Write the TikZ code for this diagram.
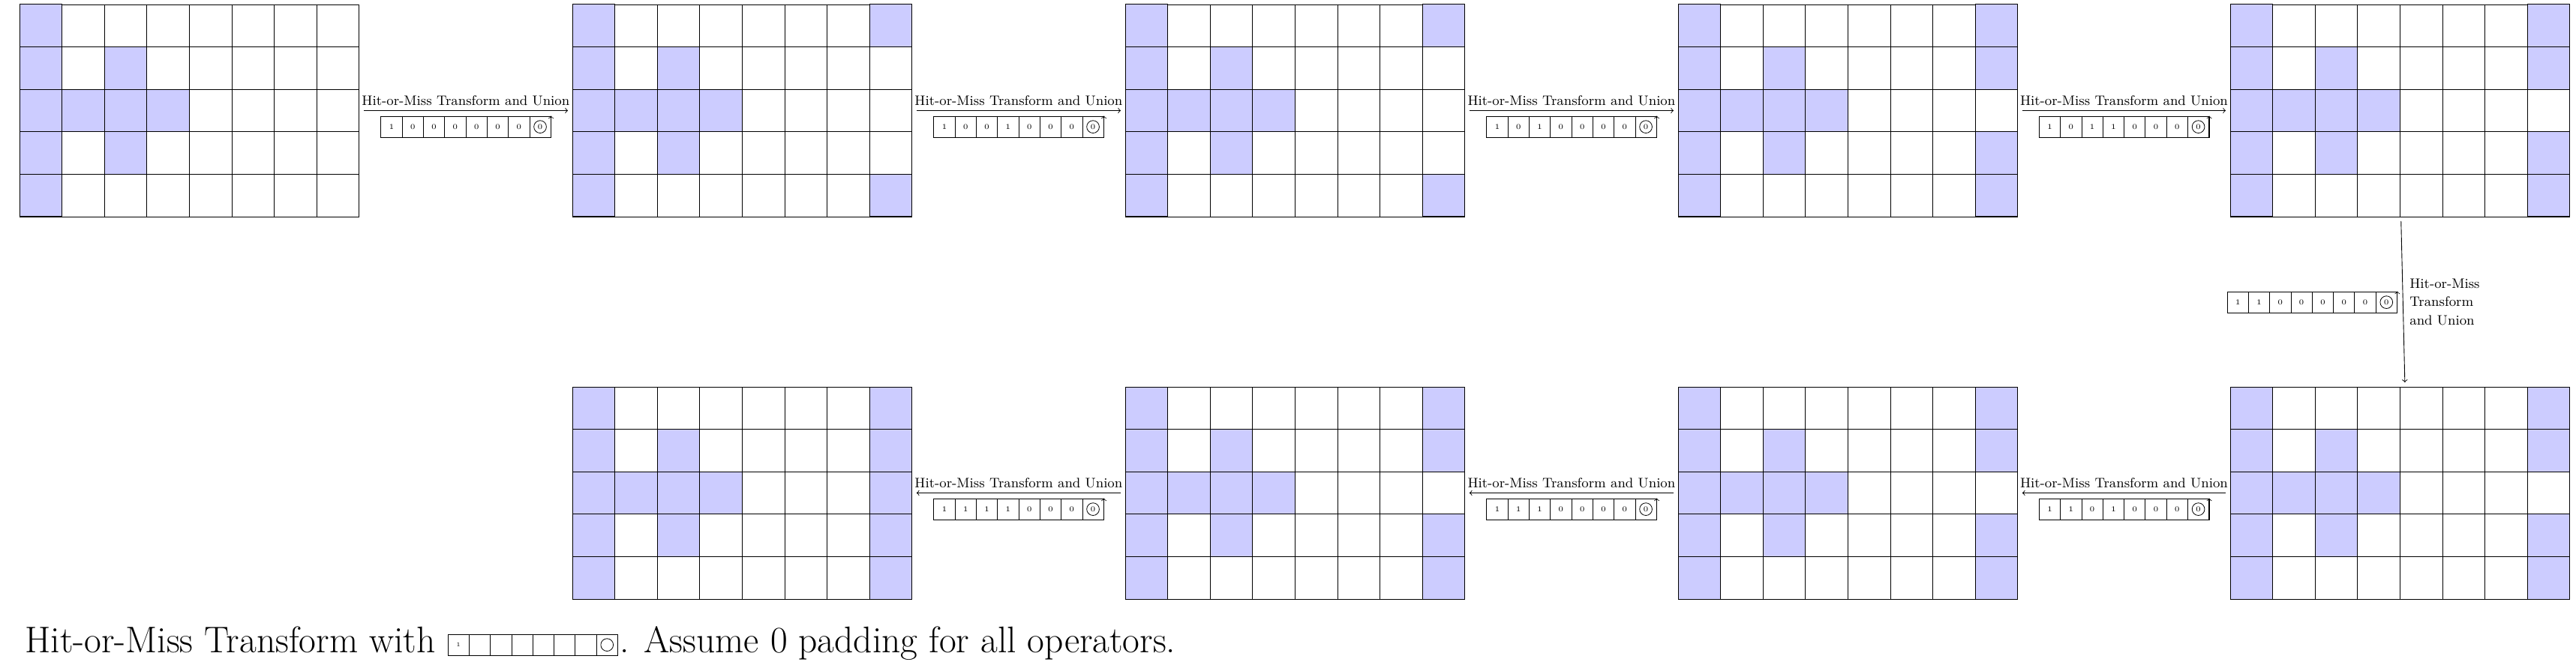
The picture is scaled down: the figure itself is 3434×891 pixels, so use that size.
\documentclass[tikz,border=0pt]{standalone}
\usetikzlibrary{calc}
\definecolor{cellfill}{RGB}{204,204,255}
\tikzset{
 cellline/.style={draw=black, line width=0.4pt},
 onecell/.style={draw=black, fill=cellfill, line width=0.5pt},
 gridframe/.style={rectangle, minimum width=8cm, minimum height=5cm, inner sep=0pt, outer sep=0pt},
 arr/.style={->, line width=0.45pt, shorten <=3pt, shorten >=3pt},
 lab/.style={font=\fontsize{9.2}{12.3}\selectfont, inner sep=3.33pt},
 kcell/.style={draw, rectangle, minimum size=0.5cm, inner sep=0pt, font=\tiny},
 kcirc/.style={draw, circle, minimum size=8.4pt, inner sep=0pt, font=\tiny},
 captxt/.style={anchor=base west, inner sep=0pt, font=\fontsize{24.88}{30}\selectfont},
}
\newcommand{\hmgrid}[3]{%
 \begin{scope}[shift={(#2,#3)}]
  \foreach \cc in {0,...,7}{\foreach \rr in {0,...,4}{\draw[cellline] (\cc*56.6,\rr*56.6) rectangle ++(56.6,56.6);}}
  \foreach \cc/\rr in {0/0,0/1,0/2,0/3,0/4,2/1,1/2,2/2,3/2,2/3}{\draw[onecell] (\cc*56.6,\rr*56.6) rectangle ++(56.6,56.6);}
 \end{scope}
 \node[gridframe] (#1) at (#2+226.4,#3+141.5) {};
}
\newcommand{\colseven}[3]{%
 \foreach \rr in {#3}{\draw[onecell] (#1+7*56.6,#2+\rr*56.6) rectangle ++(56.6,56.6);}
}
\newcommand{\kernel}[4]{%
 \begin{scope}[shift={(#2,#3)}]
  \foreach \dd [count=\ii from 0] in {#4}{\node[kcell] (#1-\ii) at (\ii*28.3+14.15,14.15) {\dd};}
  \node[kcell] (#1-7) at (7*28.3+14.15,14.15) {};
  \node[kcirc] (#1-c) at (#1-7) {0};
  \draw[->] (#1-7.south east) -- (#1-7.north east);
 \end{scope}
}
\begin{document}
\begin{tikzpicture}[x=0.0176678cm, y=-0.0176678cm]
\useasboundingbox (0,0) rectangle (3434,891);
% top row
\hmgrid{g1}{26}{6}
\hmgrid{g2}{763}{6}   \colseven{763}{6}{0,4}
\hmgrid{g3}{1500}{6}  \colseven{1500}{6}{0,4}
\hmgrid{g4}{2237}{6}  \colseven{2237}{6}{0,1,3,4}
\hmgrid{g5}{2973}{6}  \colseven{2973}{6}{0,1,3,4}
% bottom row
\hmgrid{g6}{2973}{516} \colseven{2973}{516}{0,1,3,4}
\hmgrid{g7}{2237}{516} \colseven{2237}{516}{0,1,3,4}
\hmgrid{g8}{1500}{516} \colseven{1500}{516}{0,1,3,4}
\hmgrid{g9}{763}{516}  \colseven{763}{516}{0,1,2,3,4}
% arrows
\draw[arr] (g1.east) -- (g2.west) node[midway, above, lab] (t1) {Hit-or-Miss Transform and Union};
\draw[arr] (g2.east) -- (g3.west) node[midway, above, lab] (t2) {Hit-or-Miss Transform and Union};
\draw[arr] (g3.east) -- (g4.west) node[midway, above, lab] (t3) {Hit-or-Miss Transform and Union};
\draw[arr] (g4.east) -- (g5.west) node[midway, above, lab] (t4) {Hit-or-Miss Transform and Union};
\draw[arr] ([xshift=0.6pt]g5.south) -- ([xshift=3.3pt]g6.north) node[midway, right, lab, align=left, xshift=1pt] (t5) {Hit-or-Miss\\Transform\\and Union};
\draw[arr] (g6.west) -- (g7.east) node[midway, above, lab] (t6) {Hit-or-Miss Transform and Union};
\draw[arr] (g7.west) -- (g8.east) node[midway, above, lab] (t7) {Hit-or-Miss Transform and Union};
\draw[arr] (g8.west) -- (g9.east) node[midway, above, lab] (t8) {Hit-or-Miss Transform and Union};
% kernels
\kernel{k1}{507.8}{155}{1,0,0,0,0,0,0}
\kernel{k2}{1244.8}{155}{1,0,0,1,0,0,0}
\kernel{k3}{1981.8}{155}{1,0,1,0,0,0,0}
\kernel{k4}{2718.3}{155}{1,0,1,1,0,0,0}
\kernel{k5}{2969}{389}{1,1,0,0,0,0,0}
\kernel{k6}{2718.3}{665}{1,1,0,1,0,0,0}
\kernel{k7}{1981.8}{665}{1,1,1,0,0,0,0}
\kernel{k8}{1244.8}{665}{1,1,1,1,0,0,0}
% caption
\node[captxt] (cap1) at (33,870) {Hit-or-Miss Transform with};
\begin{scope}[shift={(597,846)}]
 \node[kcell, font=\fontsize{4}{4}\selectfont] (cb-0) at (14.15,14.15) {1};
 \foreach \ii in {1,...,7}{\node[kcell] (cb-\ii) at (\ii*28.3+14.15,14.15) {};}
 \node[kcirc] (cb-c) at (cb-7) {};
\end{scope}
\node[captxt] (cap2) at (826,870) {. Assume 0 padding for all operators.};
\end{tikzpicture}
\end{document}
